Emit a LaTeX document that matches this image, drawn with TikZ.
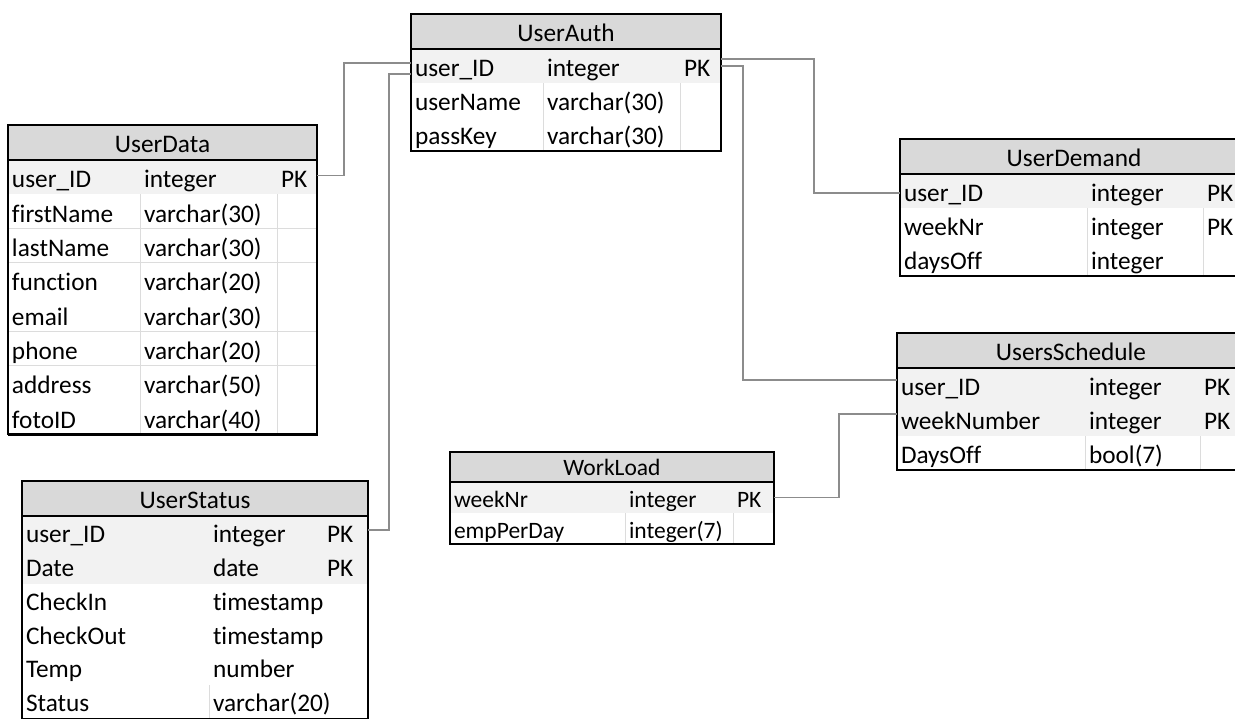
\documentclass[tikz,border=0pt]{standalone}
\usepackage{fontspec}
\setmainfont{Carlito}[Ligatures={NoCommon}]

\definecolor{hdrfill}{HTML}{D9D9D9}
\definecolor{keyfill}{HTML}{F2F2F2}
\definecolor{gridln}{HTML}{DCDCDC}
\definecolor{linkc}{HTML}{8C8C8C}

\tikzset{
  tabrow/.style={draw=none, inner sep=0pt, outer sep=0pt, anchor=north west},
  celltxt/.style={inner sep=0pt, outer sep=0pt, anchor=base west},
  hdrtxt/.style={inner sep=0pt, outer sep=0pt, anchor=base},
  link/.style={draw=linkc, line width=1.2pt},
  frameln/.style={line width=1.5pt, black},
  gridstroke/.style={draw=gridln, line width=1pt},
}

% table geometry defaults (pixel units)
\def\hdrH{35}\def\rowH{34}\def\hdrB{9.5}\def\rowB{10.8}
\def\tabfont{\fontsize{25.3}{30}\selectfont}

% #1 name, #2 left, #3 top, #4/#5/#6 column widths, #7 title,
% #8 rows: field/type/key/fill/number of column dividers
\newcommand\erTable[8]{%
  \pgfmathsetmacro\tabW{#4+#5+#6}%
  \node[tabrow, fill=hdrfill, minimum width=\tabW pt, minimum height=\hdrH pt] (#1-h) at (#2,#3) {};
  \node[hdrtxt] (#1-t) at ([yshift=-\hdrB pt]#1-h.center) {\tabfont #7};
  \foreach [count=\ri] \rf/\rt/\rk/\rs/\rd in {#8} {
    \pgfmathsetmacro\ry{#3+\hdrH+(\ri-1)*\rowH}
    \node[tabrow, fill=\rs, minimum width=\tabW pt, minimum height=\rowH pt] (#1-\ri) at (#2,\ry) {};
    \ifnum\rd>0
      \draw[gridstroke] (#1-\ri.south west) -- (#1-\ri.south east);
      \draw[gridstroke] ([xshift=#4pt]#1-\ri.north west) -- ([xshift=#4pt]#1-\ri.south west);
    \fi
    \ifnum\rd>1
      \draw[gridstroke] ([xshift=#4pt+#5pt]#1-\ri.north west) -- ([xshift=#4pt+#5pt]#1-\ri.south west);
    \fi
    \node[celltxt] (#1-\ri-a) at ([xshift=4pt, yshift=-\rowB pt]#1-\ri.west) {\tabfont\rf};
    \node[celltxt] (#1-\ri-b) at ([xshift=#4pt+4pt, yshift=-\rowB pt]#1-\ri.west) {\tabfont\rt};
    \node[celltxt] (#1-\ri-c) at ([xshift=#4pt+#5pt+4pt, yshift=-\rowB pt]#1-\ri.west) {\tabfont\rk};
    \xdef\lastrow{\ri}
  }
  \draw[frameln] (#1-h.north west) rectangle (#1-\lastrow.south east);
  \draw[frameln] (#1-h.south west) -- (#1-h.south east);
  \draw[line width=2.4pt] (#1-h.north east) -- (#1-\lastrow.south east) -- (#1-\lastrow.south west);
}

\begin{document}
\begin{tikzpicture}[x=1pt, y=-1pt]
  \useasboundingbox[fill=white] (0,0) rectangle (1235,718);

  \erTable{ua}{411}{14}{132}{137}{41}{UserAuth}{
    user\_ID/integer/PK/keyfill/0,
    userName/varchar(30)//white/2,
    passKey/varchar(30)//white/2}

  \def\rowH{34.3}
  \erTable{ud}{8}{125}{132}{137}{40}{UserData}{
    user\_ID/integer/PK/keyfill/0,
    firstName/varchar(30)//white/2,
    lastName/varchar(30)//white/2,
    function/varchar(20)//white/2,
    email/varchar(30)//white/2,
    phone/varchar(20)//white/2,
    address/varchar(50)//white/2,
    fotoID/varchar(40)//white/2}

  % runs past the lower edge of the page
  \def\rowH{33.8}\def\rowB{9.8}
  \erTable{us}{22}{481}{187}{114}{45}{UserStatus}{
    user\_ID/integer/PK/keyfill/0,
    Date/date/PK/keyfill/0,
    CheckIn/timestamp//white/0,
    CheckOut/timestamp//white/0,
    Temp/number//white/0,
    Status/varchar(20)//white/1}

  \def\rowH{34}\def\rowB{10.8}
  \erTable{dm}{900}{139}{187}{116}{45}{UserDemand}{
    user\_ID/integer/PK/keyfill/0,
    weekNr/integer/PK/white/2,
    daysOff/integer//white/2}

  \erTable{sc}{897}{333}{188}{115}{45}{UsersSchedule}{
    user\_ID/integer/PK/keyfill/0,
    weekNumber/integer/PK/keyfill/0,
    DaysOff/bool(7)//white/2}

  \def\hdrH{30}\def\rowH{31}\def\hdrB{8.5}\def\rowB{9.5}
  \def\tabfont{\fontsize{23.5}{28}\selectfont}
  \erTable{wl}{450}{452}{175}{108}{41}{WorkLoad}{
    weekNr/integer/PK/keyfill/0,
    empPerDay/integer(7)//white/2}

  % relationships
  \draw[link] ([yshift=2pt]ud-1.east) -- ++(27,0) |- ([yshift=3pt]ua-1.west);
  \draw[link] ([yshift=3pt]us-1.east) -- ++(21,0) |- ([yshift=-8pt]ua-1.west);
  \draw[link] ([yshift=7pt]ua-1.east) -- ++(93,0) |- ([yshift=-2pt]dm-1.west);
  \draw[link] (ua-1.east) -- ++(22,0) |- ([yshift=5pt]sc-1.west);
  \draw[link] (wl-1.east) -- ++(65,0) |- ([yshift=5pt]sc-2.west);
\end{tikzpicture}
\end{document}
